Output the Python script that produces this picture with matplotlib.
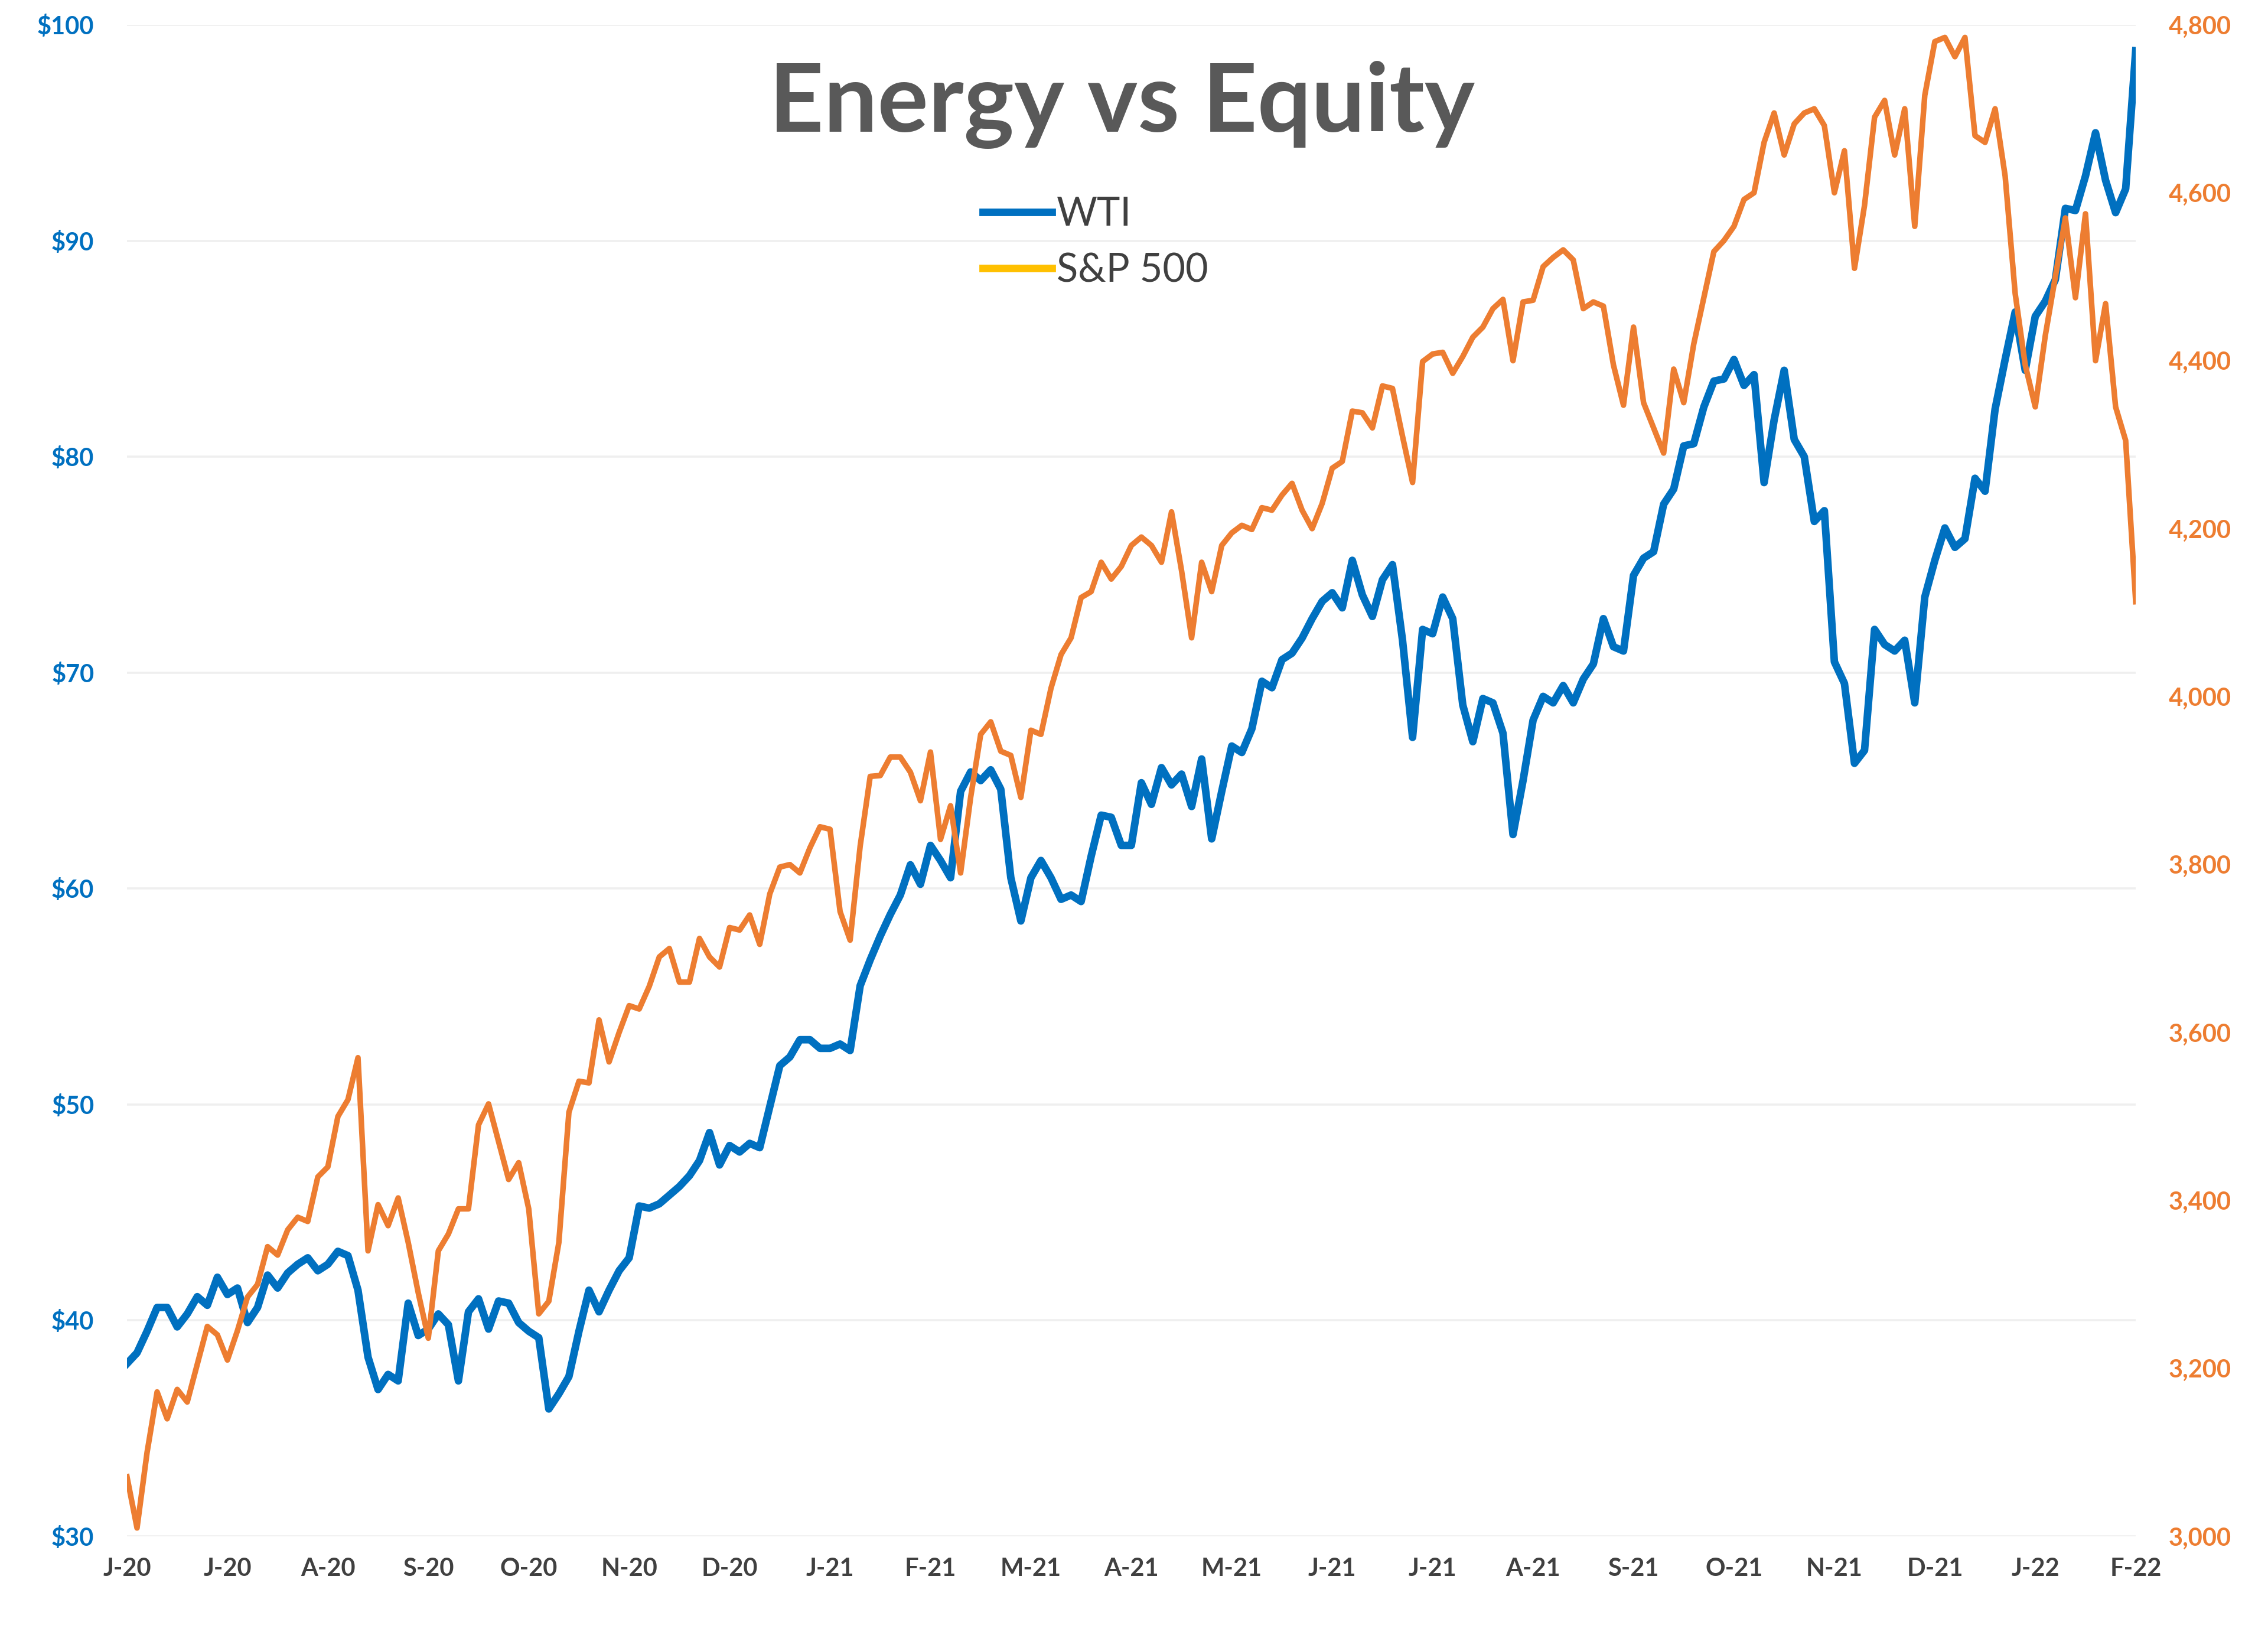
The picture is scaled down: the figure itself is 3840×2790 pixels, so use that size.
import matplotlib
matplotlib.use('Agg')
import matplotlib.pyplot as plt
from matplotlib.lines import Line2D
import numpy as np

plt.rcParams['font.family'] = ['Lato', 'DejaVu Sans']

# ---------------- data ----------------
wti = [
    38.0, 38.5, 39.5, 40.6, 40.6, 39.7, 40.3, 41.1, 40.7, 42.0,
    41.2, 41.5, 39.9, 40.6, 42.1, 41.5, 42.2, 42.6, 42.9, 42.3,
    42.6, 43.2, 43.0, 41.4, 38.3, 36.8, 37.5, 37.2, 40.8, 39.3,
    39.6, 40.3, 39.8, 37.2, 40.4, 41.0, 39.6, 40.9, 40.8, 39.9,
    39.5, 39.2, 35.9, 36.6, 37.4, 39.5, 41.4, 40.4, 41.4, 42.3,
    42.9, 45.3, 45.2, 45.4, 45.8, 46.2, 46.7, 47.4, 48.7, 47.2,
    48.1, 47.8, 48.2, 48.0, 49.9, 51.8, 52.2, 53.0, 53.0, 52.6,
    52.6, 52.8, 52.5, 55.5, 56.7, 57.8, 58.8, 59.7, 61.1, 60.2,
    62.0, 61.3, 60.5, 64.5, 65.4, 65.0, 65.5, 64.6, 60.5, 58.5,
    60.5, 61.3, 60.5, 59.5, 59.7, 59.4, 61.5, 63.4, 63.3, 62.0,
    62.0, 64.9, 63.9, 65.6, 64.8, 65.3, 63.8, 66.0, 62.3, 64.5,
    66.6, 66.3, 67.4, 69.6, 69.3, 70.6, 70.9, 71.6, 72.5, 73.3,
    73.7, 73.0, 75.2, 73.6, 72.6, 74.3, 75.0, 71.5, 67.0, 72.0,
    71.8, 73.5, 72.5, 68.5, 66.8, 68.8, 68.6, 67.2, 62.5, 65.0,
    67.8, 68.9, 68.6, 69.4, 68.6, 69.7, 70.4, 72.5, 71.2, 71.0,
    74.5, 75.3, 75.6, 77.8, 78.5, 80.5, 80.6, 82.3, 83.5, 83.6,
    84.5, 83.3, 83.8, 78.8, 81.7, 84.0, 80.8, 80.0, 77.0, 77.5,
    70.5, 69.5, 65.8, 66.4, 72.0, 71.3, 71.0, 71.5, 68.6, 73.5,
    75.2, 76.7, 75.8, 76.2, 79.0, 78.4, 82.2, 84.5, 86.7, 84.0,
    86.5, 87.2, 88.2, 91.5, 91.4, 93.0, 95.0, 92.8, 91.3, 92.4,
    98.8]

spx = [
    3071, 3010, 3100, 3172, 3140, 3175, 3160, 3205, 3250, 3240,
    3210, 3245, 3285, 3300, 3345, 3335, 3365, 3380, 3375, 3428,
    3440, 3500, 3520, 3570, 3340, 3395, 3370, 3403, 3350, 3290,
    3236, 3340, 3360, 3390, 3390, 3490, 3515, 3470, 3425, 3445,
    3390, 3265, 3280, 3350, 3505, 3542, 3540, 3615, 3565, 3600,
    3632, 3628, 3655, 3690, 3700, 3660, 3660, 3712, 3690, 3678,
    3725, 3722, 3740, 3705, 3765, 3797, 3800, 3790, 3820, 3845,
    3842, 3744, 3710, 3822, 3905, 3906, 3928, 3928, 3910, 3876,
    3934, 3830, 3870, 3790, 3880, 3955, 3970, 3935, 3930, 3880,
    3960, 3955, 4010, 4050, 4070, 4118, 4125, 4160, 4140, 4155,
    4180, 4190, 4180, 4160, 4220, 4150, 4070, 4160, 4125, 4180,
    4195, 4204, 4199, 4225, 4222, 4240, 4254, 4222, 4200, 4230,
    4272, 4280, 4340, 4338, 4320, 4370, 4367, 4310, 4255, 4399,
    4408, 4410, 4385, 4405, 4428, 4440, 4462, 4473, 4400, 4470,
    4472, 4512, 4523, 4532, 4520, 4462, 4470, 4465, 4395, 4347,
    4440, 4350, 4320, 4290, 4390, 4350, 4420, 4475, 4530, 4543,
    4560, 4592, 4600, 4660, 4695, 4645, 4682, 4695, 4700, 4680,
    4600, 4650, 4510, 4585, 4690, 4710, 4645, 4700, 4560, 4716,
    4780, 4785, 4762, 4785, 4668, 4660, 4700, 4620, 4480, 4395,
    4345, 4430, 4500, 4570, 4475, 4575, 4400, 4468, 4345, 4305,
    4113]

x_labels = ['J-20', 'J-20', 'A-20', 'S-20', 'O-20', 'N-20', 'D-20',
            'J-21', 'F-21', 'M-21', 'A-21', 'M-21', 'J-21', 'J-21',
            'A-21', 'S-21', 'O-21', 'N-21', 'D-21', 'J-22', 'F-22']

wti_ticks = [30, 40, 50, 60, 70, 80, 90, 100]
wti_tick_labels = ['$30', '$40', '$50', '$60', '$70', '$80', '$90', '$100']
spx_ticks = [3000, 3200, 3400, 3600, 3800, 4000, 4200, 4400, 4600, 4800]
spx_tick_labels = ['3,000', '3,200', '3,400', '3,600', '3,800',
                   '4,000', '4,200', '4,400', '4,600', '4,800']

series_names = ['WTI', 'S&P 500']
title = 'Energy vs Equity'

# ---------------- styling ----------------
BLUE = '#0070C0'
ORANGE = '#ED7D31'
GOLD = '#FFC000'
GRID = '#EFEFEF'
TEXT = '#404040'

W, H = 3840, 2790
fig = plt.figure(figsize=(19.2, 13.95), dpi=200)
fig.patch.set_facecolor('white')

left, right, top, bottom = 215, 3616, 42, 2601
ax = fig.add_axes([left / W, 1 - bottom / H, (right - left) / W, (bottom - top) / H])

x = np.arange(len(wti))
ax.plot(x, wti, color=BLUE, lw=4.6, solid_joinstyle='round', zorder=3)
ax.set_xlim(0, len(wti) - 1)
ax.set_ylim(wti_ticks[0], wti_ticks[-1])
ax.set_yticks(wti_ticks)
ax.set_yticklabels(wti_tick_labels, color=BLUE, fontsize=15, fontweight='bold')
ax.set_xticks(np.linspace(0, len(wti) - 1, len(x_labels)))
ax.set_xticklabels(x_labels, color=TEXT, fontsize=15, fontweight='bold')
ax.tick_params(axis='both', length=0)
ax.tick_params(axis='y', pad=20)
ax.tick_params(axis='x', pad=13)
ax.grid(axis='y', color=GRID, lw=1.3)
ax.set_axisbelow(True)
for s in ax.spines.values():
    s.set_visible(False)

ax2 = ax.twinx()
ax2.plot(x, spx, color=ORANGE, lw=3.4, solid_joinstyle='round', zorder=3)
ax2.set_ylim(spx_ticks[0], spx_ticks[-1])
ax2.set_yticks(spx_ticks)
ax2.set_yticklabels(spx_tick_labels, color=ORANGE, fontsize=15, fontweight='bold')
ax2.tick_params(axis='y', length=0, pad=20)
for s in ax2.spines.values():
    s.set_visible(False)

fig.text(1900 / W, 1 - 177 / H, title, ha='center', va='center',
         fontsize=58, fontweight='bold', color='#595959')

handles = [Line2D([0], [0], color=BLUE, lw=4.6),
           Line2D([0], [0], color=GOLD, lw=4.6)]
leg = fig.legend(handles, series_names, loc='center left',
                 bbox_to_anchor=(1664 / W, 1 - 411 / H),
                 bbox_transform=fig.transFigure,
                 frameon=False, fontsize=24, handlelength=1.75,
                 handletextpad=0.12, labelspacing=0.5, borderpad=0,
                 borderaxespad=0)
for t in leg.get_texts():
    t.set_color(TEXT)

fig.savefig('out.png', dpi=200, facecolor='white')
